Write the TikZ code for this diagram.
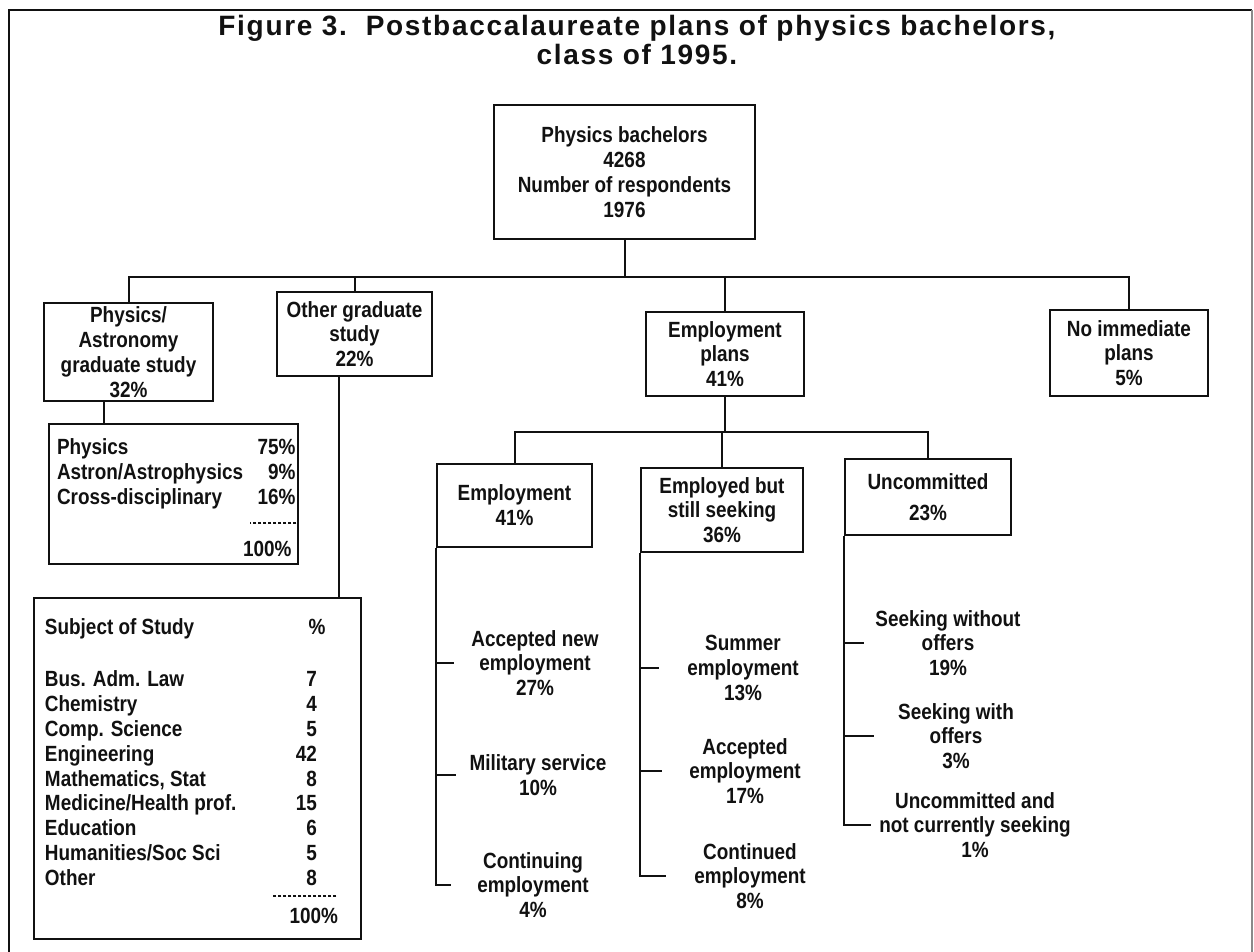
\documentclass[tikz,border=0pt]{standalone}
\usepackage{fontspec}
\usepackage{tikz}
\usetikzlibrary{positioning,calc}
\newfontfamily\pbfont{Liberation Sans}[FakeStretch=0.86]
\newfontfamily\pbtitlefont{Liberation Sans}[LetterSpace=6]
\definecolor{pbInk}{HTML}{111111}
\definecolor{pbEdge}{HTML}{8A8A8A}
\tikzset{
  pb-text/.style={font=\fontsize{11}{12.4}\pbfont\bfseries, text=pbInk,
    align=center, inner sep=0pt},
  pb-box/.style={pb-text, draw=pbInk, line width=1.3pt},
  pb-link/.style={draw=pbInk, line width=1pt},
  pb-rule/.style={draw=pbInk, line width=0.8pt, dash pattern=on 1.5pt off 1pt},
  pb-title/.style={font=\fontsize{14}{12.6}\pbtitlefont\bfseries, text=pbInk,
    align=center}
}

\begin{document}
\begin{tikzpicture}[x=0.5pt, y=-0.5pt]
\useasboundingbox (0,0) rectangle (1254,952);
\fill[white] (0,0) rectangle (1254,952);
\draw[pbInk, line width=1pt] (9,952) -- (9,10) -- (1252,10);
\draw[pbEdge, line width=1pt] (1252,10) -- (1252,952);

\node[pb-title] (title) at (637,40)
  {Figure 3.\ \ Postbaccalaureate plans of physics bachelors,\\ class of 1995.};

% top levels
\node[pb-box, minimum width=130.5pt, minimum height=67pt] (bach) at (624.5,172)
  {Physics bachelors\\ 4268\\ Number of respondents\\ 1976};
\node[pb-box, minimum width=84.5pt, minimum height=49pt] (physgrad) at (128.5,352)
  {Physics/\\ Astronomy\\ graduate study\\ 32\%};
\node[pb-box, minimum width=77.5pt, minimum height=42pt] (othergrad) at (354.5,334)
  {Other graduate\\ study\\ 22\%};
\node[pb-box, minimum width=79pt, minimum height=42pt] (empplans) at (725,354)
  {Employment\\ plans\\ 41\%};
\node[pb-box, minimum width=79pt, minimum height=43pt] (noplans) at (1129,353)
  {No immediate\\ plans\\ 5\%};

% employment plans
\node[pb-box, minimum width=77.5pt, minimum height=41.5pt] (emp) at (514.5,505.5)
  {Employment\\ 41\%};
\node[pb-box, minimum width=81pt, minimum height=42pt] (seek) at (722,510)
  {Employed but\\ still seeking\\ 36\%};
\node[pb-box, minimum width=83pt, minimum height=38pt] (uncom) at (928,497)
  {Uncommitted\\[3pt] 23\%};

% tables
\node[pb-box, minimum width=124.5pt, minimum height=70pt] (physlist) at (173.5,494)
  {\begin{tabular*}{124.5pt}{@{\hspace{4pt}}l@{\extracolsep{\fill}}r@{\hspace{4pt}}}
   \rule{0pt}{15.4pt}Physics & 75\%\\
   Astron/Astrophysics & 9\%\\
   Cross-disciplinary & 16\%\\[13.6pt]
   & 100\%\hspace{2pt}
   \end{tabular*}};
\node[pb-box, minimum width=163.5pt, minimum height=170.5pt] (subjlist) at (197.5,768.5)
  {\begin{tabular*}{163.5pt}{@{\hspace{5.5pt}}l@{\extracolsep{\fill}}r@{\hspace{22pt}}}
   \rule{0pt}{14.4pt}Subject of Study & \makebox[0pt]{\%}\hspace{3pt}\\[13.6pt]
   Bus. Adm. Law & 7\\
   Chemistry & 4\\
   Comp. Science & 5\\
   Engineering & 42\\
   Mathematics, Stat & 8\\
   Medicine/Health prof. & 15\\
   Education & 6\\
   Humanities/Soc Sci & 5\\
   Other & 8\\[6.6pt]
   & \makebox[0pt][r]{100\%\hspace{-10.5pt}}
   \end{tabular*}};
\draw[pb-rule] ($(physlist.north east)+(-3,100)$) -- ++(-46,0);
\draw[pb-rule] ($(subjlist.north east)+(-26,299)$) -- ++(-65,0);

% outcomes
\node[pb-text] (accnew) at (535,663) {Accepted new\\ employment\\ 27\%};
\node[pb-text] (military) at (538,775) {Military service\\ 10\%};
\node[pb-text] (contemp) at (533,885) {Continuing\\ employment\\ 4\%};
\node[pb-text] (summer) at (743,668) {Summer\\ employment\\ 13\%};
\node[pb-text] (accemp) at (745,771) {Accepted\\ employment\\ 17\%};
\node[pb-text] (contd) at (750,876) {Continued\\ employment\\ 8\%};
\node[pb-text] (nooffer) at (948,643) {Seeking without\\ offers\\ 19\%};
\node[pb-text] (offer) at (956,736) {Seeking with\\ offers\\ 3\%};
\node[pb-text] (notseek) at (975,825) {Uncommitted and\\ not currently seeking\\ 1\%};

% Relations
\coordinate (bus1) at (619,277);
\coordinate (bus2) at (722,432);
\draw[pb-link] (bach.south) -- (bach.south |- bus1);
\draw[pb-link] (physgrad.north) |- (noplans.north |- bus1) -- (noplans.north);
\draw[pb-link] (othergrad.north) -- (othergrad.north |- bus1);
\draw[pb-link] (empplans.north) -- (empplans.north |- bus1);
\draw[pb-link] (empplans.south) -- (empplans.south |- bus2);
\draw[pb-link] (emp.north) |- (uncom.north |- bus2) -- (uncom.north);
\draw[pb-link] (seek.north) -- (seek.north |- bus2);
\path (physgrad.south) ++(-24.5,0) coordinate (physdrop);
\path (othergrad.south) ++(-15.5,0) coordinate (otherdrop);
\draw[pb-link] (physdrop) -- (physdrop |- physlist.north);
\draw[pb-link] (otherdrop) -- (otherdrop |- subjlist.north);

\draw[pb-link] (emp.south west) -- (emp.south west |- contemp) -- ++(15,0);
\draw[pb-link] (emp.south west |- accnew) -- ++(18,0);
\draw[pb-link] (emp.south west |- military) -- ++(20,0);
\draw[pb-link] (seek.south west) -- (seek.south west |- contd) -- ++(26,0);
\draw[pb-link] (seek.south west |- summer) -- ++(19,0);
\draw[pb-link] (seek.south west |- accemp) -- ++(22,0);
\draw[pb-link] (uncom.south west) -- (uncom.south west |- notseek) -- ++(27,0);
\draw[pb-link] (uncom.south west |- nooffer) -- ++(20,0);
\draw[pb-link] (uncom.south west |- offer) -- ++(30,0);
\end{tikzpicture}
\end{document}
